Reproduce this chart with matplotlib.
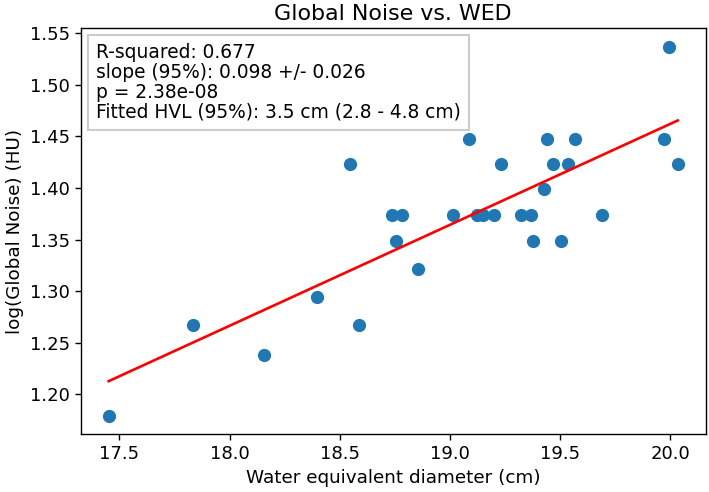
"""Global noise vs. water equivalent diameter, log-linear fit."""
import matplotlib

matplotlib.use("Agg")
import matplotlib.pyplot as plt
import numpy as np

# water equivalent diameter (cm) and log10 of global noise (HU)
wed_cm = [
    17.451, 17.832, 18.157, 18.398, 18.545, 18.589, 18.736, 18.754,
    18.781, 18.854, 19.015, 19.085, 19.121, 19.151, 19.201, 19.230,
    19.324, 19.369, 19.377, 19.426, 19.439, 19.469, 19.503, 19.536,
    19.569, 19.689, 19.970, 19.993, 20.034,
]
log_noise = [
    1.179, 1.267, 1.238, 1.2946, 1.4233, 1.267, 1.3738, 1.3486,
    1.3738, 1.3215, 1.3738, 1.4472, 1.3738, 1.3738, 1.3738, 1.4233,
    1.3738, 1.3738, 1.3486, 1.3987, 1.4472, 1.4233, 1.3486, 1.4233,
    1.4472, 1.3738, 1.4472, 1.537, 1.4233,
]
stats_text = (
    "R-squared: 0.677\n"
    "slope (95%): 0.098 +/- 0.026\n"
    "p = 2.38e-08\n"
    "Fitted HVL (95%): 3.5 cm (2.8 - 4.8 cm)"
)

plt.rcParams["font.size"] = 13.2
plt.rcParams["xtick.labelsize"] = 13.0
plt.rcParams["ytick.labelsize"] = 13.0
plt.rcParams["axes.linewidth"] = 1.0
plt.rcParams["xtick.major.size"] = 4.4
plt.rcParams["ytick.major.size"] = 4.4
plt.rcParams["xtick.major.width"] = 1.0
plt.rcParams["ytick.major.width"] = 1.0

x = np.array(wed_cm)
y = np.array(log_noise)
slope, intercept = np.polyfit(x, y, 1)
xfit = np.array([x.min(), x.max()])

fig = plt.figure(figsize=(7.09, 4.92), dpi=100)
ax = fig.add_axes([0.1138, 0.1173, 0.8815, 0.8258])
ax.scatter(x, y, s=72, color="#1f77b4", zorder=2)
ax.plot(xfit, slope * xfit + intercept, color="red", lw=1.9, zorder=3)

ax.set_xlim(17.324, 20.161)
ax.set_ylim(1.1612, 1.5551)
ax.set_xticks([17.5, 18.0, 18.5, 19.0, 19.5, 20.0])
ax.set_yticks([1.20, 1.25, 1.30, 1.35, 1.40, 1.45, 1.50, 1.55])
ax.set_xlabel("Water equivalent diameter (cm)")
ax.set_ylabel("log(Global Noise) (HU)")
ax.set_title("Global Noise vs. WED", fontsize=15.9)

ax.text(
    0.0245, 0.962, stats_text, fontsize=13.4,
    transform=ax.transAxes, va="top", ha="left", linespacing=1.04,
    bbox=dict(boxstyle="square,pad=0.45", facecolor="white",
              edgecolor="0.8", linewidth=1.5),
    zorder=4,
)

fig.savefig("out.png", dpi=100)
plt.close(fig)
